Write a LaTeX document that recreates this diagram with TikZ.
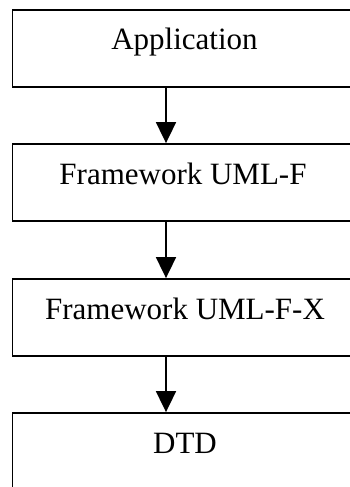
\documentclass[tikz,border=0pt]{standalone}
\usepackage{fontspec}
\setmainfont{Liberation Serif}
\usetikzlibrary{arrows.meta}
\begin{document}
\begin{tikzpicture}[x=1pt,y=-1pt,
  layerbox/.style={draw=black, line width=1.8pt, rectangle, inner sep=0pt,
    minimum width=343.5pt, minimum height=77pt},
  layertext/.style={anchor=base, inner sep=0pt, font=\fontsize{31}{36}\selectfont},
  flow/.style={line width=1.8pt, -{Triangle[width=20pt,length=21pt]}}]
\useasboundingbox (0,0) rectangle (350,487);
\clip (0,0) rectangle (350,487);
\node[layerbox] (b1) at (184.25,48.5) {};
\node[layerbox] (b2) at (184.25,182.5) {};
\node[layerbox] (b3) at (184.25,317.5) {};
\node[layerbox] (b4) at (184.25,451.5) {};
\node[layertext] (t1) at (184.5,50) {Application};
\node[layertext] (t2) at (183,184.5) {Framework UML-F};
\node[layertext] (t3) at (185,319.5) {Framework UML-F-X};
\node[layertext] (t4) at (185,453) {DTD};
\coordinate (ax) at (166,0);
\draw[flow] (b1.south -| ax) -- (b2.north -| ax);
\draw[flow] (b2.south -| ax) -- (b3.north -| ax);
\draw[flow] (b3.south -| ax) -- (b4.north -| ax);
\end{tikzpicture}
\end{document}
